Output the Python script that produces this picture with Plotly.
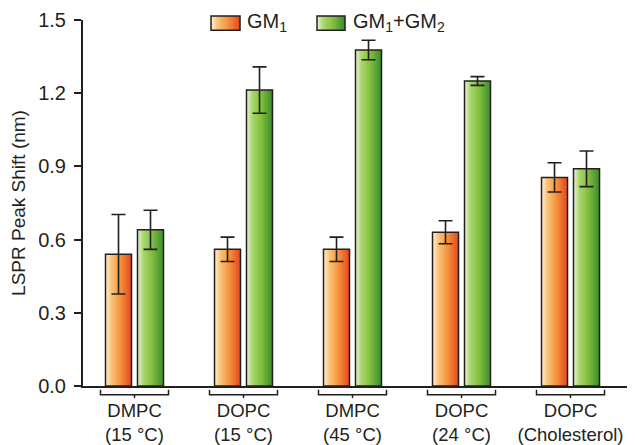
import plotly.graph_objects as go

# ---- data ----
categories = ["DMPC<br>(15 °C)", "DOPC<br>(15 °C)", "DMPC<br>(45 °C)", "DOPC<br>(24 °C)", "DOPC<br>(Cholesterol)"]
gm1 = [0.54, 0.56, 0.56, 0.63, 0.855]
gm1_err = [0.163, 0.05, 0.05, 0.047, 0.06]
gm12 = [0.64, 1.213, 1.377, 1.25, 0.89]
gm12_err = [0.08, 0.095, 0.04, 0.018, 0.073]
yticks = [0.0, 0.3, 0.6, 0.9, 1.2, 1.5]
ytick_text = ["0.0", "0.3", "0.6", "0.9", "1.2", "1.5"]

# ---- style ----
INK = "#231F20"
FONT = "Liberation Sans, Arial, sans-serif"
orange_stops = [(0.0, (255, 240, 212)), (0.22, (251, 196, 124)), (0.55, (245, 152, 62)), (1.0, (228, 70, 30))]
green_stops = [(0.0, (236, 245, 220)), (0.22, (170, 214, 110)), (0.55, (132, 192, 62)), (1.0, (58, 140, 46))]

def interp(stops, t):
    for (t0, c0), (t1, c1) in zip(stops[:-1], stops[1:]):
        if t <= t1:
            f = (t - t0) / (t1 - t0) if t1 > t0 else 0
            return "rgb(%d,%d,%d)" % tuple(round(a + (b - a) * f) for a, b in zip(c0, c1))
    return "rgb(%d,%d,%d)" % stops[-1][1]

x = list(range(len(categories)))
bw = 0.2385
half_gap = 0.0275
N = 18

fig = go.Figure()

def add_series(vals, errs, left, stops):
    for k in range(N):
        start = left + k * bw / N
        fig.add_trace(go.Bar(
            x=x, y=vals, offset=start, width=left + bw - start,
            marker=dict(color=interp(stops, (k + 0.5) / N), line=dict(width=0)),
            showlegend=False, hoverinfo="skip"))
    fig.add_trace(go.Bar(
        x=x, y=vals, offset=left, width=bw,
        marker=dict(color="rgba(0,0,0,0)", line=dict(color=INK, width=1.5)),
        error_y=dict(type="data", array=errs, visible=True, color=INK, thickness=1.6, width=7),
        showlegend=False))

add_series(gm1, gm1_err, -half_gap - bw, orange_stops)
add_series(gm12, gm12_err, half_gap, green_stops)

xmin, xmax = -0.4725, 4.665
def px(v):
    return (v - xmin) / (xmax - xmin)

shapes = []
# group brackets under the axis
for i in x:
    l, r, c = px(i - 0.312), px(i + 0.312), px(i)
    yb = -0.024
    shapes.append(dict(type="path", xref="paper", yref="paper",
                       path=f"M{l},{yb + 0.014} L{l},{yb} L{r},{yb} L{r},{yb + 0.014}",
                       line=dict(color=INK, width=1.5)))
    shapes.append(dict(type="line", xref="paper", yref="paper", x0=c, x1=c, y0=yb, y1=yb - 0.009,
                       line=dict(color=INK, width=1.5)))

# manual legend
def legend_box(x0, x1, y0, y1, stops):
    n = 12
    for k in range(n):
        shapes.append(dict(type="rect", xref="paper", yref="paper",
                           x0=x0 + (x1 - x0) * k / n, x1=x1, y0=y0, y1=y1,
                           fillcolor=interp(stops, (k + 0.5) / n), line=dict(width=0)))
    shapes.append(dict(type="rect", xref="paper", yref="paper", x0=x0, x1=x1, y0=y0, y1=y1,
                       line=dict(color=INK, width=1.5)))

legend_box(0.2286, 0.2804, 0.972, 1.011, orange_stops)
legend_box(0.4179, 0.4679, 0.972, 1.011, green_stops)

annotations = [
    dict(text="GM<sub>1</sub>", x=0.2893, y=0.994, xref="paper", yref="paper", xanchor="left",
         yanchor="middle", showarrow=False, font=dict(size=20, color=INK, family=FONT)),
    dict(text="GM<sub>1</sub>+GM<sub>2</sub>", x=0.4786, y=0.994, xref="paper", yref="paper",
         xanchor="left", yanchor="middle", showarrow=False, font=dict(size=20, color=INK, family=FONT)),
]

fig.update_layout(
    width=635, height=445,
    margin=dict(l=75, r=0, t=12, b=67),
    paper_bgcolor="white", plot_bgcolor="white",
    barmode="overlay",
    font=dict(family=FONT, size=19, color=INK),
    shapes=shapes, annotations=annotations,
    showlegend=False,
    xaxis=dict(range=[xmin, xmax], tickvals=x, ticktext=categories, showgrid=False, zeroline=False,
               showline=True, linecolor=INK, linewidth=2, ticks="", tickfont=dict(size=18.5, color=INK),
               ticklabelstandoff=7),
    yaxis=dict(range=[0, 1.5], tickvals=yticks, ticktext=ytick_text, showgrid=False, zeroline=False,
               showline=True, linecolor=INK, linewidth=2, ticks="outside", ticklen=7, tickwidth=2,
               tickcolor=INK, tickfont=dict(size=20, color=INK), ticklabelstandoff=4,
               title=dict(text="LSPR Peak Shift (nm)", font=dict(size=19, color=INK), standoff=10)),
)

fig.write_html("out.html")
